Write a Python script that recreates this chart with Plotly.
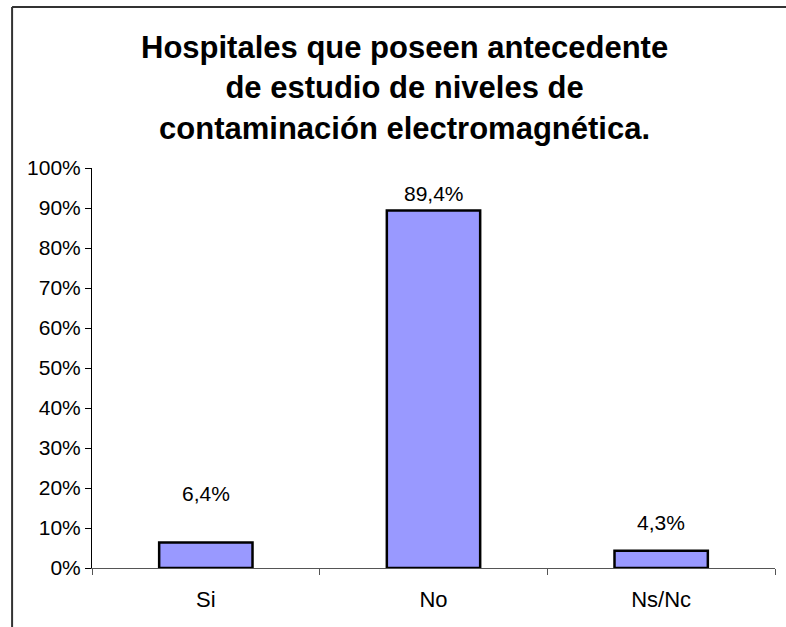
import plotly.graph_objects as go

# Data
categories = ["Si", "No", "Ns/Nc"]
values = [6.4, 89.4, 4.3]
tick_vals = [0, 10, 20, 30, 40, 50, 60, 70, 80, 90, 100]
tick_text = [f"{v}%" for v in tick_vals]
label_shift = [49, 17, 28]
title_text = "Hospitales que poseen antecedente<br>de estudio de niveles de<br>contaminación electromagnética."

font = "Liberation Sans, Arial, sans-serif"

fig = go.Figure()

fig.add_trace(go.Bar(
    x=categories,
    y=values,
    width=0.41,
    marker=dict(color="#9999FF", line=dict(color="black", width=2.5)),
    hoverinfo="skip"
))

# value labels above the bars
for cat, val, shift in zip(categories, values, label_shift):
    fig.add_annotation(
        x=cat, y=val, text=f"{val:.1f}%".replace(".", ","),
        showarrow=False, yshift=shift, yanchor="middle",
        font=dict(family=font, size=21, color="black")
    )

# title as an annotation so the three lines sit where we want
fig.add_annotation(
    x=0.457, y=1.35, xref="paper", yref="paper",
    xanchor="center", yanchor="top", showarrow=False,
    text=title_text, align="center",
    font=dict(family=font, size=31, color="black", weight="bold")
)

# chart frame (left and top edges visible)
fig.add_shape(type="line", xref="paper", yref="paper",
              x0=-0.117, x1=1.2, y0=1.4025, y1=1.4025,
              line=dict(color="#333333", width=2))
fig.add_shape(type="line", xref="paper", yref="paper",
              x0=-0.117, x1=-0.117, y0=1.4025, y1=-0.3,
              line=dict(color="#333333", width=2))

fig.update_layout(
    width=786, height=627,
    margin=dict(l=92, r=11, t=168, b=59),
    paper_bgcolor="white", plot_bgcolor="white",
    showlegend=False,
    font=dict(family=font, color="black")
)

fig.update_yaxes(
    range=[0, 100], tickvals=tick_vals, ticktext=tick_text,
    showgrid=False, zeroline=False,
    showline=True, linecolor="black", linewidth=1,
    ticks="outside", ticklen=6, tickcolor="black",
    tickfont=dict(family=font, size=21, color="black")
)

fig.update_xaxes(
    showgrid=False, showline=True, linecolor="#555555", linewidth=1,
    ticks="outside", tickson="boundaries", ticklen=6, tickcolor="#555555",
    ticklabelstandoff=12,
    tickfont=dict(family=font, size=22, color="black")
)

fig.write_html(
    "out.html",
    config={"displayModeBar": False},
    post_script="document.body.style.margin='0';"
                "document.body.style.overflow='hidden';"
                "document.documentElement.style.overflow='hidden';"
)
